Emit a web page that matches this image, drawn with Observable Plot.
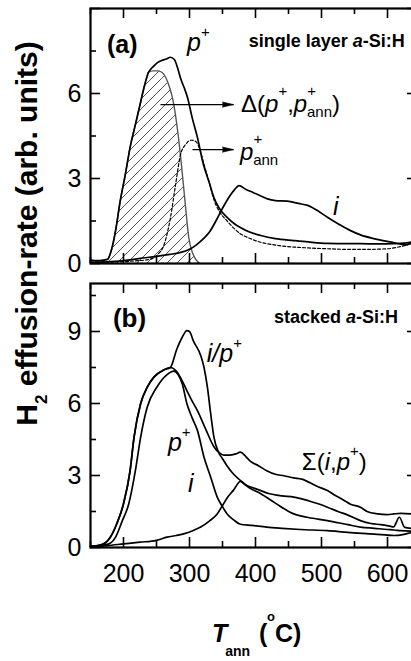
<!DOCTYPE html>
<html><head><meta charset="utf-8">
<script src="https://cdn.jsdelivr.net/npm/d3@7"></script>
<script src="https://cdn.jsdelivr.net/npm/@observablehq/plot@0.6"></script>
<style>
html,body{margin:0;padding:0;background:#fff;overflow:hidden;}
#wrap{position:relative;width:411px;height:661px;overflow:hidden;background:#fff;font-family:"Liberation Sans",Arial,Helvetica,sans-serif;}
#wrap svg{position:absolute;left:0;max-width:none;}
</style></head><body><div id="wrap"></div>
<script>
// ---------- data: panel (a) single layer ----------
const aPplusT = [150,160,170,176,182,188,195,203,210,218,225,231,238,245,252,258,265,271,277,282,287,292,297,304,312,321,330,337,345,357,367,377,390,408,430,458,480,509,540,559,585,609,625,636];
const aPplusV = [0.12,0.1,0.12,0.15,0.5,1.16,2.2,3.17,4.1,4.9,5.6,6.2,6.75,6.95,7.1,7.17,7.22,7.28,7.2,6.9,6.5,6.2,5.86,5.15,4.45,3.5,2.85,2.33,1.95,1.63,1.42,1.27,1.12,0.99,0.88,0.81,0.76,0.71,0.7,0.7,0.69,0.7,0.72,0.76];
const aDeltaT = [150,165,176,182,188,195,203,210,218,225,231,238,245,252,258,266,270,274,279,283,289,294,299,305,311,316];
const aDeltaV = [0.1,0.1,0.15,0.5,1.16,2.2,3.17,4.1,4.9,5.6,6.2,6.75,6.8,6.8,6.75,6.46,6.2,5.86,5.2,4.5,3.2,2.0,0.9,0.35,0.1,0.0];
const aPannT = [150,180,210,240,251,262,271,279,286,294,303,310,316,322,330,337,345,357,367,377,390,408,430,458,480,509,540,570,600,620,636];
const aPannV = [0.05,0.05,0.08,0.15,0.3,0.7,1.6,2.8,3.8,4.2,4.35,4.3,4.0,3.5,2.85,2.25,1.85,1.5,1.25,1.05,0.9,0.75,0.65,0.58,0.55,0.52,0.5,0.5,0.52,0.6,0.7];
const aIT = [150,175,200,225,250,270,285,300,310,320,330,340,350,360,368,375,385,397,408,418,430,448,465,479,495,509,525,544,560,579,595,609,620,628,636];
const aIV = [0.03,0.06,0.1,0.18,0.25,0.32,0.38,0.5,0.65,0.85,1.1,1.5,1.95,2.35,2.6,2.75,2.62,2.5,2.38,2.28,2.22,2.2,2.12,2.05,1.85,1.63,1.4,1.16,1.0,0.88,0.8,0.74,0.68,0.66,0.72];
// arrows (start T, end T, level)
const aArrowX1 = [256, 304.5];
const aArrowX2 = [366.7, 366.7];
const aArrowY = [5.61, 4.02];

// ---------- data: panel (b) stacked ----------
const bIPT = [150,165,180,190,200,210,216,226,236,246,261,271,281,289,296,300,306,317,322,327,332,337,344,350,357,367,377,390,408,430,458,480,509,540,559,580,600,610,620,636];
const bIPV = [0.05,0.1,0.43,1.0,1.82,3.2,4.6,6.0,6.68,7.1,7.4,7.5,8.28,8.76,9.04,9.0,8.6,8.0,7.5,6.7,5.6,4.6,3.97,3.7,3.4,3.05,2.8,2.5,2.24,1.85,1.4,1.25,1.12,0.95,0.85,0.8,0.75,0.73,0.7,0.68];
const bSumT = [150,165,180,190,200,210,216,226,236,246,261,271,280,286,296,304,312,325,337,345,352,360,370,377,385,392,405,417,430,443,458,470,493,509,519,535,544,559,569,585,600,610,620,636];
const bSumV = [0.05,0.1,0.43,1.0,1.82,3.2,4.6,6.0,6.68,7.1,7.4,7.5,7.35,7.1,6.54,6.1,5.7,4.9,4.2,3.95,3.85,3.85,3.9,3.97,3.8,3.6,3.4,3.2,3.05,2.99,2.9,2.85,2.55,2.37,2.2,1.95,1.8,1.68,1.5,1.4,1.37,1.4,1.42,1.4];
const bPplusT = [150,165,178,188,198,208,218,226,236,251,266,276,283,289,296,304,312,322,332,342,350,357,367,377,395,417,440,468,509,540,580,610,625,636];
const bPplusV = [0.05,0.08,0.15,0.43,1.1,1.82,3.2,4.6,5.85,6.7,7.2,7.35,7.2,6.82,6.0,5.4,4.88,3.76,2.94,2.1,1.7,1.4,1.15,0.97,0.92,0.85,0.8,0.75,0.7,0.63,0.56,0.5,0.55,0.62];
const bIT = [150,175,200,225,250,266,280,291,305,317,330,342,350,358,367,377,385,395,408,420,440,458,480,495,509,525,540,559,575,590,605,609,618,626,636];
const bIV = [0.03,0.08,0.15,0.22,0.3,0.43,0.5,0.57,0.7,0.85,1.1,1.4,1.75,2.1,2.4,2.75,2.6,2.5,2.37,2.25,2.15,2.1,1.95,1.82,1.68,1.5,1.35,1.12,1.0,0.95,0.88,0.86,1.26,0.84,0.8];

// ---------- ticks ----------
const xTickLabels = [200,300,400,500,600];
const xMinor = [150,250,350,450,550,650];
const aYLabels = [0,3,6];
const bYLabels = [0,3,6,9];
const aYMajor = [0,3,6,9];
const aYMinor = [1.5,4.5,7.5];
const bYMajor = [0,3,6,9];
const bYMinor = [1.5,4.5,7.5,10.5];

const ser = (T, V) => T.map((t, i) => ({T: t, v: V[i]}));

const W = 420, ML = 90, MR = 0;
const FONT = '"Liberation Sans", Arial, Helvetica, sans-serif';

function tickMarks(fh, yMaj, yMin) {
  const fw = W - ML - MR;
  const s = {stroke: "black", strokeWidth: 1.6};
  return [
    Plot.ruleX(xTickLabels, {...s, insetTop: fh - 10}),
    Plot.ruleX(xTickLabels, {...s, insetBottom: fh - 10}),
    Plot.ruleX(xMinor, {...s, insetTop: fh - 6}),
    Plot.ruleX(xMinor, {...s, insetBottom: fh - 6}),
    Plot.ruleY(yMaj, {...s, insetRight: fw - 10}),
    Plot.ruleY(yMin, {...s, insetRight: fw - 6}),
    Plot.ruleY(yMaj, {...s, insetLeft: fw - 13}),
    Plot.ruleY(yMin, {...s, insetLeft: fw - 9})
  ];
}

const lineOpts = {x: "T", y: "v", stroke: "black", strokeWidth: 1.7, curve: "monotone-x"};
const arrows = aArrowX1.map((x1, i) => ({x1, x2: aArrowX2[i], y: aArrowY[i]}));

// ---------- panel (a) ----------
const plotA = Plot.plot({
  width: W, height: 280, marginLeft: ML, marginRight: MR, marginTop: 8, marginBottom: 17,
  style: {fontFamily: FONT, fontSize: "25px", background: "transparent", maxWidth: "none", color: "black"},
  x: {domain: [150, 650], axis: null},
  y: {domain: [0, 9]},
  marks: [
    Plot.areaY(ser(aDeltaT, aDeltaV), {x: "T", y: "v", fill: "url(#hatchA)", curve: "monotone-x"}),
    Plot.line(ser(aDeltaT, aDeltaV), {x: "T", y: "v", stroke: "#555", strokeWidth: 1.4, curve: "monotone-x"}),
    Plot.line(ser(aPannT, aPannV), {...lineOpts, strokeWidth: 1.2, strokeDasharray: "3,2"}),
    Plot.line(ser(aIT, aIV), lineOpts),
    Plot.line(ser(aPplusT, aPplusV), lineOpts),
    Plot.link(arrows, {x1: "x1", x2: "x2", y1: "y", y2: "y", stroke: "black", strokeWidth: 1.3}),
    Plot.vector(arrows, {x: "x2", y: "y", rotate: 90, length: 11, anchor: "end", shape: "spike", r: 2.6, fill: "black", stroke: "black", strokeWidth: 0.6}),
    ...tickMarks(255, aYMajor, aYMinor),
    Plot.frame({stroke: "black", strokeWidth: 2.2}),
    Plot.axisY(aYLabels, {anchor: "left", tickSize: 0, tickPadding: 9, fontSize: 25, label: null})
  ]
});

// ---------- panel (b) ----------
const plotB = Plot.plot({
  width: W, height: 322, marginLeft: ML, marginRight: MR, marginTop: 13, marginBottom: 45,
  style: {fontFamily: FONT, fontSize: "25px", background: "transparent", maxWidth: "none", color: "black"},
  x: {domain: [150, 650]},
  y: {domain: [0, 11]},
  marks: [
    Plot.line(ser(bIT, bIV), lineOpts),
    Plot.line(ser(bPplusT, bPplusV), lineOpts),
    Plot.line(ser(bSumT, bSumV), lineOpts),
    Plot.line(ser(bIPT, bIPV), lineOpts),
    ...tickMarks(264, bYMajor, bYMinor),
    Plot.frame({stroke: "black", strokeWidth: 2.2}),
    Plot.axisY(bYLabels, {anchor: "left", tickSize: 0, tickPadding: 9, fontSize: 25, label: null}),
    Plot.axisX(xTickLabels, {anchor: "bottom", tickSize: 0, tickPadding: 17, fontSize: 25, label: null})
  ]
});

const wrap = document.getElementById("wrap");
plotA.style.top = "0px";
plotB.style.top = "270px";
wrap.appendChild(plotB);
wrap.appendChild(plotA);

const NS = "http://www.w3.org/2000/svg";
function el(tag, attrs, parent) {
  const e = document.createElementNS(NS, tag);
  for (const k in attrs) e.setAttribute(k, attrs[k]);
  if (parent) parent.appendChild(e);
  return e;
}

// defs: hatch pattern
const defs = el("defs", {});
plotA.insertBefore(defs, plotA.firstChild);
const pat = el("pattern", {id: "hatchA", patternUnits: "userSpaceOnUse", width: 10, height: 10}, defs);
el("path", {d: "M-2,2 L2,-2 M0,10 L10,0 M8,12 L12,8", stroke: "#444", "stroke-width": 0.9, fill: "none"}, pat);

// rich text labels positioned through the plot scales
function label(plot, T, v, parts, o = {}) {
  const xs = plot.scale("x"), ys = plot.scale("y");
  const t = el("text", {x: xs.apply(T), y: ys.apply(v), "font-size": o.size || 25,
    "font-weight": o.bold ? "bold" : "normal", "text-anchor": o.anchor || "start",
    "font-family": FONT, fill: "black"}, plot);
  let cur = 0;
  for (const p of parts) {
    const sh = p.shift || 0;
    const ts = el("tspan", {}, t);
    if (sh !== cur) ts.setAttribute("dy", sh - cur);
    if (p.dx) ts.setAttribute("dx", p.dx);
    if (p.size) ts.setAttribute("font-size", p.size);
    if (p.italic) ts.setAttribute("font-style", "italic");
    ts.textContent = p.t;
    cur = sh;
  }
  return t;
}
const it = (t) => ({t, italic: true});
const sup = (t) => ({t, size: 15, shift: -14});
const nor = (t) => ({t});

label(plotA, 175.8, 7.42, [nor("(a)")], {bold: true, size: 25});
label(plotA, 297, 7.48, [it("p"), sup("+")]);
label(plotA, 627, 7.62, [nor("single layer "), it("a"), nor("-Si:H")], {bold: true, size: 18, anchor: "end"});
label(plotA, 378.8, 5.33, [nor("Δ("), it("p"), {t: "+", size: 15, shift: -16}, nor(","), it("p"),
  {t: "+", size: 15, shift: -16}, {t: "ann", size: 15, shift: 5, dx: -9}, nor(")")], {size: 24});
label(plotA, 377.3, 3.64, [it("p"), {t: "+", size: 15, shift: -16}, {t: "ann", size: 15, shift: 5, dx: -9}], {size: 24});
label(plotA, 518, 1.69, [it("i")]);

label(plotB, 184.8, 9.15, [nor("(b)")], {bold: true, size: 26});
label(plotB, 616.7, 9.33, [nor("stacked "), it("a"), nor("-Si:H")], {bold: true, size: 18, anchor: "end"});
label(plotB, 327, 7.7, [it("i/p"), sup("+")]);
label(plotB, 268, 4.0, [it("p"), sup("+")]);
label(plotB, 298.5, 2.29, [it("i")]);
label(plotB, 471, 3.2, [nor("Σ("), it("i"), nor(","), it("p"), sup("+"), nor(")")], {size: 24});

// axis titles overlay
const ov = el("svg", {width: 411, height: 661, viewBox: "0 0 411 661"});
ov.style.top = "0px";
ov.style.pointerEvents = "none";
wrap.appendChild(ov);
const yl = el("text", {transform: "translate(37,233.5) rotate(-90)", "text-anchor": "middle",
  "font-family": FONT, "font-size": 30, "font-weight": "bold", fill: "black"}, ov);
[["H", 0, null], ["2", 10, 17], [" effusion-rate (arb. units)", 0, null]].reduce((cur, [t, sh, sz]) => {
  const ts = el("tspan", {}, yl);
  if (sh !== cur) ts.setAttribute("dy", sh - cur);
  if (sz) ts.setAttribute("font-size", sz);
  ts.textContent = t;
  return sh;
}, 0);
const xl = el("text", {x: 212, y: 642, "font-family": FONT, "font-size": 25, "font-weight": "bold", fill: "black"}, ov);
const xparts = [
  {t: "T", a: {"font-style": "italic"}},
  {t: "ann", a: {"font-size": 14, dy: 14, dx: -2}},
  {t: "(", a: {x: 259, dy: -14}},
  {t: "o", a: {x: 267, dy: -21, "font-size": 13}},
  {t: "C)", a: {x: 275, dy: 21}}
];
for (const p of xparts) { const ts = el("tspan", p.a, xl); ts.textContent = p.t; }
</script></body></html>
